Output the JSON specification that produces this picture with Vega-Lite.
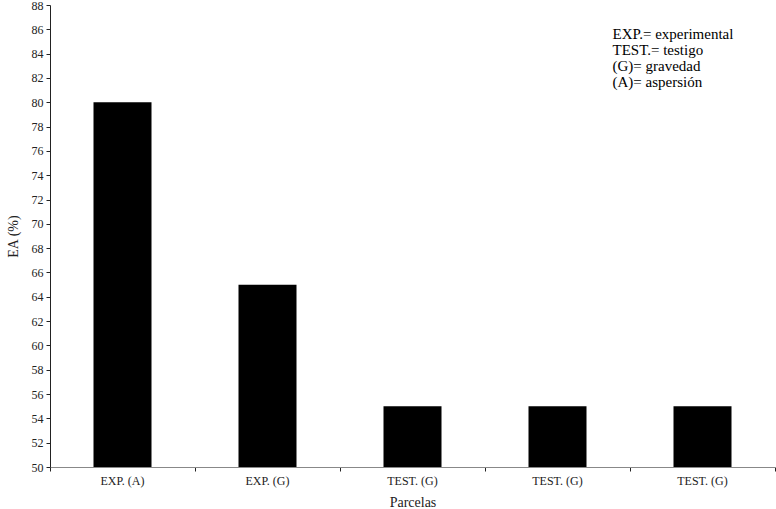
{
  "$schema": "https://vega.github.io/schema/vega-lite/v6.json",
  "width": 725,
  "height": 462,
  "autosize": "none",
  "padding": {"left": 50, "top": 5, "right": 1, "bottom": 42},
  "background": "white",
  "config": {
    "view": {"stroke": null},
    "font": "Liberation Serif",
    "axis": {"grid": false, "labelFont": "Liberation Serif", "titleFont": "Liberation Serif", "titleFontWeight": "normal", "labelColor": "#222", "titleColor": "#222"}
  },
  "data": {
    "values": [
      {"parcela": "EXP. (A)|1", "ea": 80},
      {"parcela": "EXP. (G)|2", "ea": 65},
      {"parcela": "TEST. (G)|3", "ea": 55},
      {"parcela": "TEST. (G)|4", "ea": 55},
      {"parcela": "TEST. (G)|5", "ea": 55}
    ]
  },
  "layer": [
    {
      "mark": {"type": "bar", "color": "black", "width": {"band": 0.4}},
      "encoding": {
        "x": {
          "field": "parcela", "type": "nominal", "sort": null,
          "scale": {"paddingInner": 0, "paddingOuter": 0},
          "axis": {
            "title": "Parcelas", "labelAngle": 0,
            "labelExpr": "split(datum.label, '|')[0]",
            "bandPosition": 1, "tickExtra": true,
            "domainColor": "#888", "tickColor": "#222", "tickSize": 4,
            "labelFontSize": 12, "labelPadding": 4, "titleFontSize": 14, "titlePadding": 9
          }
        },
        "y": {
          "field": "ea", "type": "quantitative",
          "scale": {"domain": [50, 88], "zero": false, "nice": false},
          "axis": {
            "title": "EA (%)", "values": [50,52,54,56,58,60,62,64,66,68,70,72,74,76,78,80,82,84,86,88],
            "labelOverlap": false, "tickCount": 20,
            "domainColor": "#222", "tickColor": "#222", "tickSize": 4,
            "labelFontSize": 12, "labelPadding": 3, "titleFontSize": 14, "titlePadding": 11
          }
        },
        "y2": {"datum": 50}
      }
    },
    {
      "data": {"values": [{"t": "EXP.= experimental\nTEST.= testigo\n(G)= gravedad\n(A)= aspersión"}]},
      "mark": {"type": "text", "align": "left", "baseline": "middle", "lineBreak": "\n", "lineHeight": 16, "fontSize": 15, "font": "Liberation Serif", "color": "black", "dx": -90},
      "encoding": {
        "text": {"field": "t"},
        "x": {"datum": "TEST. (G)|5"},
        "y": {
          "datum": 85.6,
          "axis": {
            "title": "EA (%)", "values": [50,52,54,56,58,60,62,64,66,68,70,72,74,76,78,80,82,84,86,88],
            "labelOverlap": false, "tickCount": 20,
            "domainColor": "#222", "tickColor": "#222", "tickSize": 4,
            "labelFontSize": 12, "labelPadding": 3, "titleFontSize": 14, "titlePadding": 11
          }
        }
      }
    }
  ]
}
